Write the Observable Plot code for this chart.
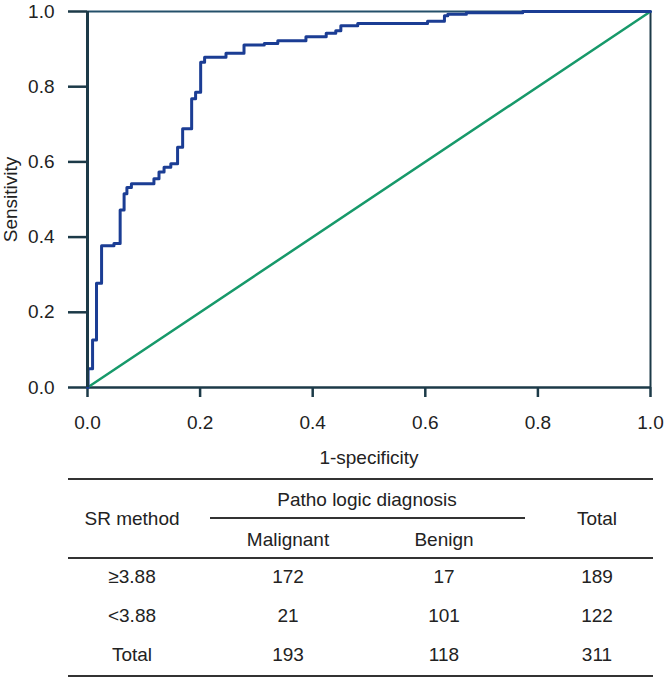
<!DOCTYPE html>
<html>
<head>
<meta charset="utf-8">
<script src="https://cdn.jsdelivr.net/npm/d3@7"></script>
<script src="https://cdn.jsdelivr.net/npm/@observablehq/plot@0.6"></script>
<style>
  html, body { margin: 0; padding: 0; background: #fff; }
  #wrap { width: 666px; font-family: "Liberation Sans", Arial, Helvetica, sans-serif; color: #222; }
  #table { position: relative; width: 666px; height: 207px; font-size: 19px; }
  #table .t { position: absolute; transform: translate(-50%, -50%); line-height: 1; white-space: nowrap; }
  #table .l { position: absolute; background: #333; }
</style>
</head>
<body>
<div id="wrap"><div id="chart"></div><div id="table"></div></div>
<script>
// ROC curve vertices (1-specificity, sensitivity), drawn as steps
const fpr = [0, 0.001, 0.009, 0.016, 0.025, 0.047, 0.058, 0.065, 0.070, 0.078, 0.118, 0.127, 0.136, 0.148, 0.160, 0.169, 0.185, 0.192, 0.201, 0.208, 0.246, 0.278, 0.314, 0.338, 0.388, 0.424, 0.441, 0.450, 0.480, 0.604, 0.634, 0.640, 0.673, 0.773, 1.0];
const tpr = [0, 0.050, 0.126, 0.277, 0.377, 0.383, 0.472, 0.515, 0.532, 0.542, 0.555, 0.573, 0.586, 0.595, 0.639, 0.688, 0.768, 0.785, 0.865, 0.878, 0.889, 0.911, 0.915, 0.922, 0.933, 0.942, 0.949, 0.962, 0.968, 0.974, 0.989, 0.993, 0.997, 1.0, 1.0];
// Reference diagonal
const diagX = [0, 1];
const diagY = [0, 1];
// Axis ticks
const xTicks = [0, 0.2, 0.4, 0.6, 0.8, 1.0];
const yTicks = [0, 0.2, 0.4, 0.6, 0.8, 1.0];
const xLabel = "1-specificity";
const yLabel = "Sensitivity";

// Table
const tableHeader = "SR method";
const groupHeader = "Patho logic diagnosis";
const colHeaders = ["Malignant", "Benign"];
const totalHeader = "Total";
const rowLabels = ["≥3.88", "<3.88", "Total"];
const malignant = [172, 21, 193];
const benign = [17, 101, 118];
const totals = [189, 122, 311];

const axisColor = "#1c3a48";
const roc = fpr.map((x, i) => ({x, y: tpr[i]}));
const diag = diagX.map((x, i) => ({x, y: diagY[i]}));

const chart = Plot.plot({
  width: 666,
  height: 470,
  marginTop: 11,
  marginLeft: 87,
  marginRight: 16,
  marginBottom: 83,
  style: {fontFamily: "Liberation Sans, Arial, Helvetica, sans-serif", fontSize: "19px", color: "#222", background: "#fff", overflow: "visible"},
  x: {domain: [0, 1]},
  y: {domain: [0, 1]},
  marks: [
    Plot.axisX({ticks: xTicks, tickFormat: d3.format(".1f"), tickSize: 10, tickPadding: 18, stroke: axisColor, strokeWidth: 2.5,
      label: xLabel, labelAnchor: "center", labelArrow: "none", labelOffset: 76}),
    Plot.axisY({ticks: yTicks, tickFormat: d3.format(".1f"), tickSize: 19, tickPadding: 14, stroke: axisColor, strokeWidth: 2.5,
      label: yLabel, labelAnchor: "center", labelArrow: "none"}),
    Plot.ruleY([0], {x1: 0, x2: 1, stroke: axisColor, strokeWidth: 2.5}),
    Plot.ruleY([1], {x1: 0, x2: 1, stroke: "#24506a", strokeWidth: 2}),
    Plot.ruleX([1], {y1: 0, y2: 1, stroke: axisColor, strokeWidth: 2}),
    Plot.line(diag, {x: "x", y: "y", stroke: "#17996a", strokeWidth: 2.5}),
    Plot.line(roc, {x: "x", y: "y", curve: "step-after", stroke: "#1b3d94", strokeWidth: 3}),
    Plot.ruleX([0], {y1: 0, y2: 1, stroke: axisColor, strokeWidth: 3})
  ]
});
document.getElementById("chart").appendChild(chart);

// Build the table beneath the chart
const tb = document.getElementById("table");
function txt(s, cx, cy) {
  const d = document.createElement("div");
  d.className = "t"; d.textContent = s;
  d.style.left = cx + "px"; d.style.top = cy + "px";
  tb.appendChild(d);
}
function line(x1, x2, y, h) {
  const d = document.createElement("div");
  d.className = "l";
  d.style.left = x1 + "px"; d.style.width = (x2 - x1) + "px";
  d.style.top = (y - h / 2) + "px"; d.style.height = h + "px";
  tb.appendChild(d);
}
const colX = [132, 288, 444, 597];
line(68, 653, 9, 2);
txt(groupHeader, 367, 29);
line(210, 525, 48, 1.5);
txt(tableHeader, colX[0], 48);
txt(totalHeader, colX[3], 48);
txt(colHeaders[0], colX[1], 69);
txt(colHeaders[1], colX[2], 69);
line(68, 653, 88, 2);
const rowY = [106, 145, 184];
rowLabels.forEach((r, i) => {
  txt(r, colX[0], rowY[i]);
  txt(String(malignant[i]), colX[1], rowY[i]);
  txt(String(benign[i]), colX[2], rowY[i]);
  txt(String(totals[i]), colX[3], rowY[i]);
});
line(68, 653, 206, 2);
</script>
</body>
</html>
